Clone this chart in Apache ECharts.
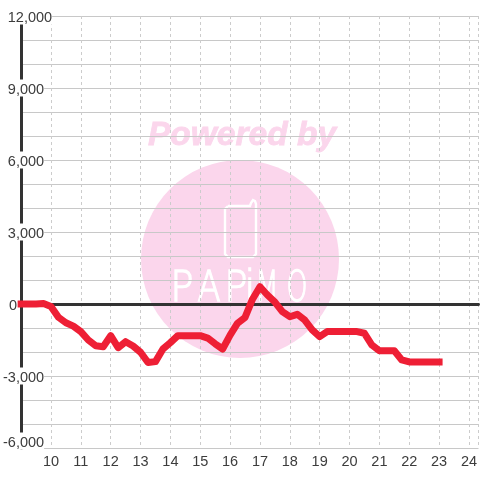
<!DOCTYPE html>
<html><head><meta charset="utf-8">
<style>html,body{margin:0;padding:0;background:#fff}#c{width:480px;height:480px}</style>
<script src="https://cdn.jsdelivr.net/npm/echarts@6/dist/echarts.min.js"></script>
</head><body><div id="c"></div>
<script>
const hours = [9,9.25,9.5,9.75,10,10.25,10.5,10.75,11,11.25,11.5,11.75,12,12.25,12.5,12.75,13,13.25,13.5,13.75,14,14.25,14.5,14.75,15,15.25,15.5,15.75,16,16.25,16.5,16.75,17,17.25,17.5,17.75,18,18.25,18.5,18.75,19,19.25,19.5,19.75,20,20.25,20.5,20.75,21,21.25,21.5,21.75,22,22.25,22.5,22.75,23];
const values = [0,0,0,20,-100,-550,-780,-920,-1150,-1500,-1740,-1780,-1320,-1820,-1570,-1750,-2010,-2440,-2400,-1875,-1610,-1320,-1320,-1320,-1320,-1420,-1660,-1875,-1300,-800,-560,200,720,375,80,-320,-530,-430,-670,-1080,-1360,-1150,-1150,-1150,-1150,-1150,-1220,-1710,-1950,-1950,-1950,-2330,-2415,-2415,-2415,-2415,-2415];
const yTickLabels = {12000:'12,000',9000:'9,000',6000:'6,000',3000:'3,000',0:'0','-3000':'-3,000','-6000':'-6,000'};
const labelGap = {12000:0,9000:8,6000:8,3000:8,0:35,'-3000':8,'-6000':8};
const pink = '#fbd6ec';
const chart = echarts.init(document.getElementById('c'), null, {renderer:'canvas'});
const font = 'Liberation Sans';
const letters = ['P','A','P','i','M','O'];
const letterX = [182,209,236,250,267,297];
const letterScale = [0.9,0.8,0.9,0.9,0.62,0.62];
chart.setOption({
  animation:false,
  backgroundColor:'#fff',
  grid:{left:20.5,right:0,top:16,bottom:32},
  graphic:[
    {type:'circle',z:-5,silent:true,shape:{cx:240,cy:259,r:99},style:{fill:pink}},
    {type:'text',z:-5,silent:true,x:242,y:136,style:{text:'Powered by',fill:pink,font:'italic bold 33.5px "Liberation Sans"',align:'center',verticalAlign:'middle',stroke:pink,lineWidth:0.8}},
    {type:'polyline',z:-4,silent:true,shape:{points:[[228,206],[250,206],[251,203],[253,200],[255,201],[256,204],[256,254],[253,257],[228,257],[225,254],[225,209],[228,206]]},style:{fill:null,stroke:'#fff',lineWidth:2.4}},
    ...letters.map((t,i)=>({type:'text',z:-4,silent:true,x:letterX[i],y:290,scaleX:letterScale[i],style:{text:t,fill:'#fff',stroke:'#fff',lineWidth:1.3,font:'200 43px "DejaVu Sans"',align:'center',verticalAlign:'middle'}}))
  ],
  xAxis:[{
    type:'value',min:9,max:24.32,interval:1,position:'bottom',
    axisLine:{show:false,onZero:false},axisTick:{show:false},
    axisLabel:{color:'#3c3c3c',fontFamily:font,fontSize:14.5,margin:6,showMinLabel:false,showMaxLabel:false,hideOverlap:false,
      formatter:v=>(v>=10&&v<=24&&Number.isInteger(v))?String(v):''},
    splitLine:{show:true,lineStyle:{color:'#ccc',type:[3,3],width:1}}
  },{
    type:'value',min:9,max:24.32,interval:1,position:'bottom',
    axisLine:{show:true,onZero:true,lineStyle:{color:'#333',width:3}},axisTick:{show:false},axisLabel:{show:false},splitLine:{show:false}
  }],
  yAxis:{
    type:'value',min:-6000,max:12000,interval:1000,
    axisLine:{show:true,onZero:false,lineStyle:{color:'#333',width:3}},axisTick:{show:false},
    axisLabel:{
      inside:false,margin:-31,align:'right',verticalAlignMinLabel:'bottom',
      formatter:v=>{const t=yTickLabels[v];if(t===undefined)return '';const g=labelGap[v];return g?`{t|${t}}{s${g}|}`:`{t|${t}}`;},
      rich:{
        t:{color:'#3c3c3c',fontFamily:font,fontSize:14.5,backgroundColor:'#fff',height:14,lineHeight:14,padding:[3,0,0,0]},
        s8:{width:8,height:14},s35:{width:35,height:14}
      }
    },
    splitLine:{show:true,lineStyle:{color:'#c8c8c8',width:1}}
  },
  series:[{
    type:'line',xAxisIndex:0,symbol:'none',z:5,
    data:hours.map((h,i)=>[h,values[i]]),
    lineStyle:{color:'#ee1f35',width:7,cap:'square',join:'round'}
  }]
});
</script></body></html>
